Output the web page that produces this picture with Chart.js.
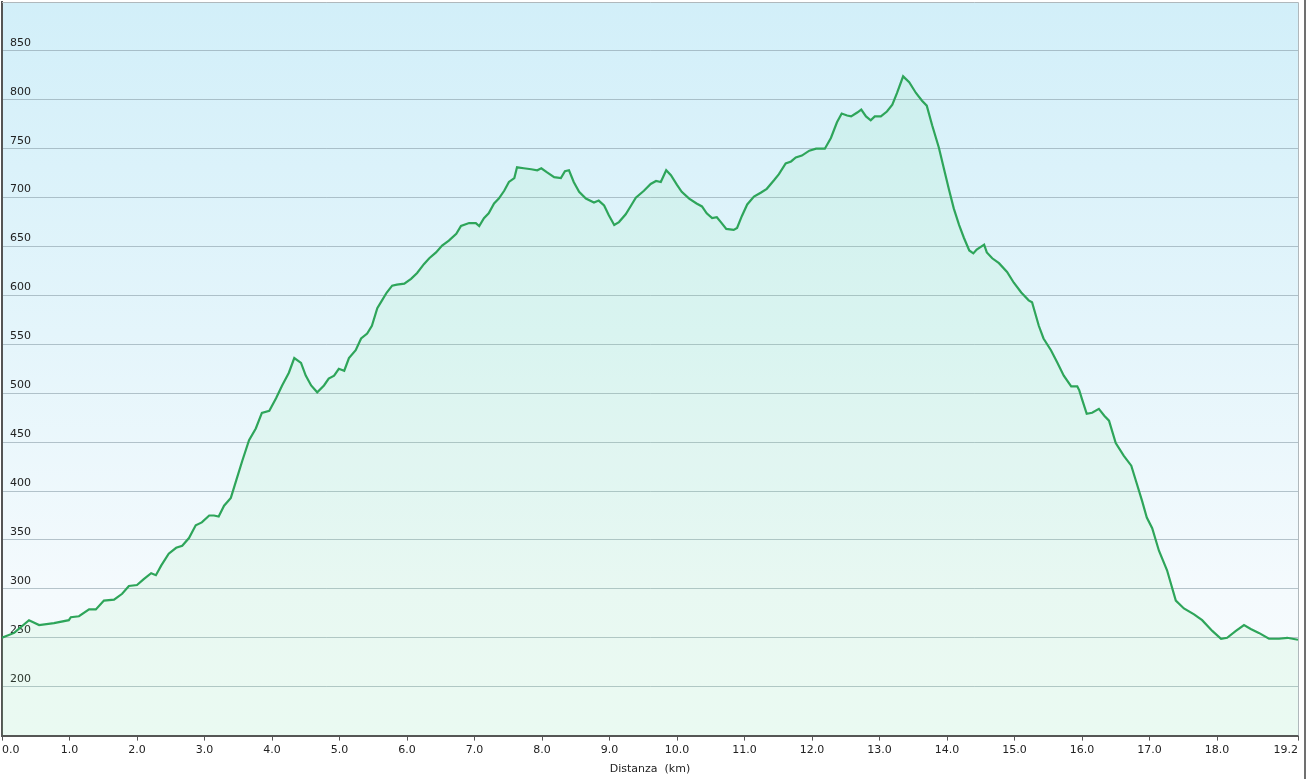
<!DOCTYPE html>
<html>
<head>
<meta charset="utf-8">
<script src="https://cdn.jsdelivr.net/npm/chart.js@4"></script>
<style>
    html, body { margin: 0; padding: 0; background: #fff; }
    #wrap { width: 1307px; height: 779px; }
</style>
</head>
<body>
<div id="wrap"><canvas id="profileChart" width="1307" height="779"></canvas></div>
<script>
// distance along the track (km) and elevation (m)
const distKm = [
    0, 0.18, 0.40, 0.55, 0.77, 0.99, 1.02, 1.14, 1.29, 1.39,
    1.51, 1.66, 1.78, 1.88, 2.00, 2.10, 2.21, 2.28, 2.36, 2.47,
    2.58, 2.67, 2.77, 2.87, 2.96, 3.07, 3.14, 3.21, 3.29, 3.39,
    3.47, 3.56, 3.66, 3.76, 3.85, 3.96, 4.06, 4.15, 4.25, 4.33,
    4.43, 4.50, 4.58, 4.67, 4.77, 4.84, 4.92, 4.99, 5.07, 5.14,
    5.24, 5.32, 5.41, 5.48, 5.56, 5.63, 5.70, 5.78, 5.85, 5.96,
    6.06, 6.15, 6.25, 6.33, 6.43, 6.52, 6.62, 6.73, 6.80, 6.92,
    7.02, 7.07, 7.14, 7.21, 7.29, 7.36, 7.44, 7.51, 7.59, 7.63,
    7.73, 7.84, 7.93, 7.99, 8.07, 8.18, 8.28, 8.34, 8.40, 8.47,
    8.55, 8.65, 8.77, 8.84, 8.92, 8.99, 9.07, 9.14, 9.24, 9.32,
    9.39, 9.51, 9.61, 9.69, 9.76, 9.84, 9.91, 10.00, 10.07, 10.18,
    10.29, 10.37, 10.44, 10.52, 10.59, 10.65, 10.73, 10.84, 10.89, 10.96,
    11.04, 11.14, 11.24, 11.33, 11.44, 11.51, 11.61, 11.69, 11.76, 11.85,
    11.96, 12.06, 12.19, 12.28, 12.37, 12.44, 12.52, 12.58, 12.67, 12.73,
    12.80, 12.87, 12.93, 13.02, 13.11, 13.19, 13.26, 13.35, 13.44, 13.54,
    13.63, 13.70, 13.78, 13.88, 13.96, 14.03, 14.10, 14.18, 14.25, 14.33,
    14.39, 14.44, 14.55, 14.59, 14.67, 14.77, 14.89, 14.99, 15.10, 15.21,
    15.26, 15.36, 15.43, 15.54, 15.63, 15.73, 15.84, 15.93, 15.96, 16.00,
    16.07, 16.15, 16.25, 16.33, 16.40, 16.50, 16.62, 16.73, 16.81, 16.89,
    16.96, 17.04, 17.14, 17.26, 17.39, 17.51, 17.66, 17.78, 17.93, 18.06,
    18.15, 18.28, 18.40, 18.50, 18.62, 18.77, 18.92, 19.04, 19.20
];
const elevation = [
    250, 255, 268, 263, 265, 268, 271, 272, 279, 279,
    288, 289, 295, 303, 304, 310, 316, 314, 324, 336,
    342, 344, 352, 365, 368, 375, 375, 374, 385, 393,
    411, 431, 452, 464, 480, 482, 495, 508, 521, 536,
    531, 518, 508, 501, 508, 515, 518, 525, 523, 536,
    544, 556, 561, 569, 587, 595, 603, 610, 611, 612,
    617, 623, 632, 638, 644, 651, 656, 663, 671, 674,
    674, 671, 679, 684, 694, 699, 707, 716, 720, 731,
    730, 729, 728, 730, 726, 721, 720, 727, 728, 716,
    706, 699, 695, 697, 692, 682, 672, 675, 683, 692,
    700, 707, 714, 717, 716, 728, 723, 713, 706, 699,
    694, 691, 684, 679, 680, 675, 668, 667, 669, 681,
    693, 701, 705, 709, 718, 724, 735, 737, 741, 743,
    748, 750, 750, 761, 777, 786, 784, 783, 787, 790,
    783, 779, 783, 783, 788, 795, 807, 824, 818, 807,
    799, 794, 774, 751, 728, 708, 689, 672, 659, 646,
    643, 647, 652, 644, 638, 633, 624, 613, 603, 595,
    593, 569, 556, 544, 532, 518, 507, 507, 503, 494,
    479, 480, 484, 477, 472, 449, 436, 426, 408, 390,
    373, 362, 339, 319, 288, 280, 274, 268, 257, 249,
    250, 257, 263, 259, 255, 249, 249, 250, 248
];
const xTicks = [0, 1, 2, 3, 4, 5, 6, 7, 8, 9, 10, 11, 12, 13, 14, 15, 16, 17, 18, 19.2];
const yTicks = [200, 250, 300, 350, 400, 450, 500, 550, 600, 650, 700, 750, 800, 850];

const points = distKm.map((d, i) => ({ x: d, y: elevation[i] }));
const labelFont = { family: 'DejaVu Sans', size: 11 };

// sky gradient behind the plot and the thin frame round it
const backdrop = {
    id: 'backdrop',
    beforeDraw(chart) {
        const { ctx, chartArea: a } = chart;
        const g = ctx.createLinearGradient(0, a.top, 0, a.bottom);
        g.addColorStop(0, '#d2eff9');
        g.addColorStop(0.45, '#e4f5fb');
        g.addColorStop(0.8, '#f4fafd');
        g.addColorStop(1, '#f7fcfd');
        ctx.save();
        ctx.fillStyle = g;
        ctx.fillRect(a.left, a.top, a.right - a.left, a.bottom - a.top);
        ctx.restore();
    },
    afterDraw(chart) {
        const { ctx, chartArea: a } = chart;
        ctx.save();
        ctx.strokeStyle = '#b0b8bc';
        ctx.lineWidth = 1;
        ctx.beginPath();
        ctx.moveTo(a.left, a.top + 0.5);
        ctx.lineTo(a.right + 0.5, a.top + 0.5);
        ctx.lineTo(a.right + 0.5, a.bottom);
        ctx.stroke();
        // window edge on the far right
        ctx.strokeStyle = '#707070';
        ctx.lineWidth = 2;
        ctx.beginPath();
        ctx.moveTo(1305, 0);
        ctx.lineTo(1305, 779);
        ctx.stroke();
        ctx.restore();
    }
};

new Chart(document.getElementById('profileChart').getContext('2d'), {
    type: 'line',
    data: {
        datasets: [{
            data: points,
            borderColor: '#2ea55a',
            borderWidth: 2.2,
            backgroundColor: 'rgba(130, 235, 150, 0.1)',
            fill: 'start',
            pointRadius: 0,
            tension: 0
        }]
    },
    options: {
        responsive: false,
        animation: false,
        devicePixelRatio: 1,
        layout: { padding: { left: 2, right: 9, top: 2, bottom: 1 } },
        plugins: { legend: { display: false }, tooltip: { enabled: false } },
        scales: {
            x: {
                type: 'linear',
                min: 0,
                max: 19.2,
                afterBuildTicks: axis => { axis.ticks = xTicks.map(v => ({ value: v })); },
                afterFit: axis => { axis.paddingLeft = 0; axis.paddingRight = 0; },
                ticks: {
                    align: 'inner',
                    autoSkip: false,
                    maxRotation: 0,
                    color: '#222',
                    font: labelFont,
                    padding: 3,
                    callback: v => Number(v).toFixed(1)
                },
                grid: { drawOnChartArea: false, drawTicks: true, tickLength: 5, color: '#555' },
                border: { color: '#555', width: 2 },
                title: {
                    display: true,
                    text: 'Distanza  (km)',
                    color: '#222',
                    font: labelFont,
                    padding: { top: 3, bottom: 2 }
                }
            },
            y: {
                min: 150,
                max: 900,
                afterBuildTicks: axis => { axis.ticks = yTicks.map(v => ({ value: v })); },
                afterFit: axis => { axis.width = 0; axis.paddingTop = 0; axis.paddingBottom = 0; },
                ticks: {
                    mirror: true,
                    padding: 8,
                    labelOffset: -8,
                    color: '#222',
                    font: labelFont
                },
                grid: { color: 'rgba(130, 150, 160, 0.55)', drawTicks: false },
                border: { color: '#555', width: 2 }
            }
        }
    },
    plugins: [backdrop]
});
</script>
</body>
</html>
